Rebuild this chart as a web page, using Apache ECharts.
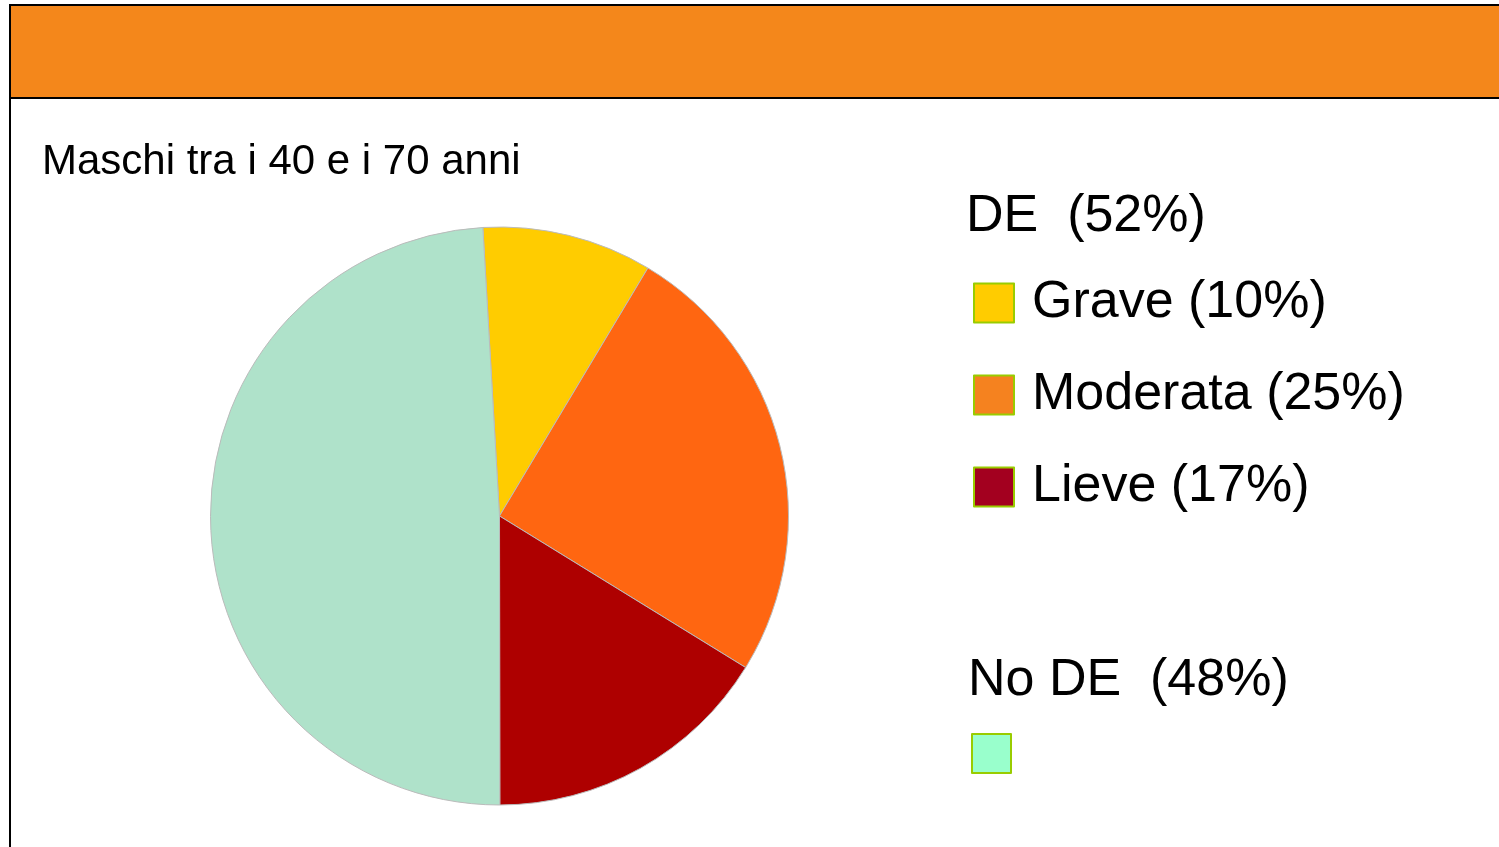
<!DOCTYPE html>
<html>
<head>
<meta charset="utf-8">
<script src="https://cdn.jsdelivr.net/npm/echarts@6/dist/echarts.min.js"></script>
<style>
  html, body { margin: 0; padding: 0; background: #fff; }
  #chart { width: 1499px; height: 847px; }
</style>
</head>
<body>
<div id="chart"></div>
<script>
// slice names and values (clockwise from just left of the top)
const names = ['Grave', 'Moderata', 'Lieve', 'No DE'];
const values = [9.5, 25.2, 16.2, 49.1];
const labelPct = ['10%', '25%', '17%', '48%'];
const sliceColors = ['#FFCC00', '#FF6611', '#AE0000', '#AFE2CA'];
const legendColors = ['#FFCC00', '#F5821F', '#A3001F', '#99FFCC'];

const groupTitles = ['DE  (52%)', 'No DE  (48%)'];
const chartTitle = 'Maschi tra i 40 e i 70 anni';

let chart = echarts.init(document.getElementById('chart'));

let pieData = names.map((n, i) => ({
  name: n,
  value: values[i],
  itemStyle: {color: sliceColors[i]}
}));

chart.setOption({
  animation: false,
  backgroundColor: '#fff',
  textStyle: {fontFamily: 'Liberation Sans, Arial, sans-serif'},
  graphic: [
    {
      type: 'rect',
      shape: {x: 10, y: 5, width: 1495, height: 93},
      style: {fill: '#F4871B', stroke: '#000', lineWidth: 2}
    },
    {
      type: 'line',
      shape: {x1: 10, y1: 5, x2: 10, y2: 850},
      style: {stroke: '#000', lineWidth: 2}
    },
    {
      type: 'text', left: 42, top: 141,
      style: {text: chartTitle, fontSize: 42, fill: '#000', fontFamily: 'Liberation Sans'}
    },
    {
      type: 'text', left: 966, top: 191,
      style: {text: groupTitles[0], fontSize: 52, fill: '#000', fontFamily: 'Liberation Sans'}
    },
    {
      type: 'text', left: 968, top: 655,
      style: {text: groupTitles[1], fontSize: 52, fill: '#000', fontFamily: 'Liberation Sans'}
    }
  ],
  legend: [
    {
      orient: 'vertical',
      left: 973,
      top: 273,
      padding: 0,
      icon: 'rect',
      itemWidth: 40,
      itemHeight: 39,
      itemGap: 32,
      selectedMode: false,
      itemStyle: {borderColor: '#99CC00', borderWidth: 2},
      data: names.slice(0, 3).map((n, i) => ({name: n, itemStyle: {color: legendColors[i]}})),
      formatter: (n) => n + ' (' + labelPct[names.indexOf(n)] + ')',
      textStyle: {
        fontSize: 52, color: '#000', fontFamily: 'Liberation Sans',
        lineHeight: 52, padding: [0, 0, 8, 13]
      }
    },
    {
      left: 971,
      top: 733,
      padding: 0,
      icon: 'rect',
      itemWidth: 39,
      itemHeight: 39,
      selectedMode: false,
      itemStyle: {borderColor: '#99CC00', borderWidth: 2},
      data: [{name: names[3], itemStyle: {color: legendColors[3]}}],
      formatter: () => '',
      textStyle: {fontSize: 10}
    }
  ],
  series: [
    {
      type: 'pie',
      center: [499.5, 516],
      radius: 289,
      startAngle: 93.3,
      clockwise: true,
      label: {show: false},
      labelLine: {show: false},
      itemStyle: {borderColor: '#BBBBBB', borderWidth: 1},
      emphasis: {disabled: true},
      data: pieData
    }
  ]
});
</script>
</body>
</html>
